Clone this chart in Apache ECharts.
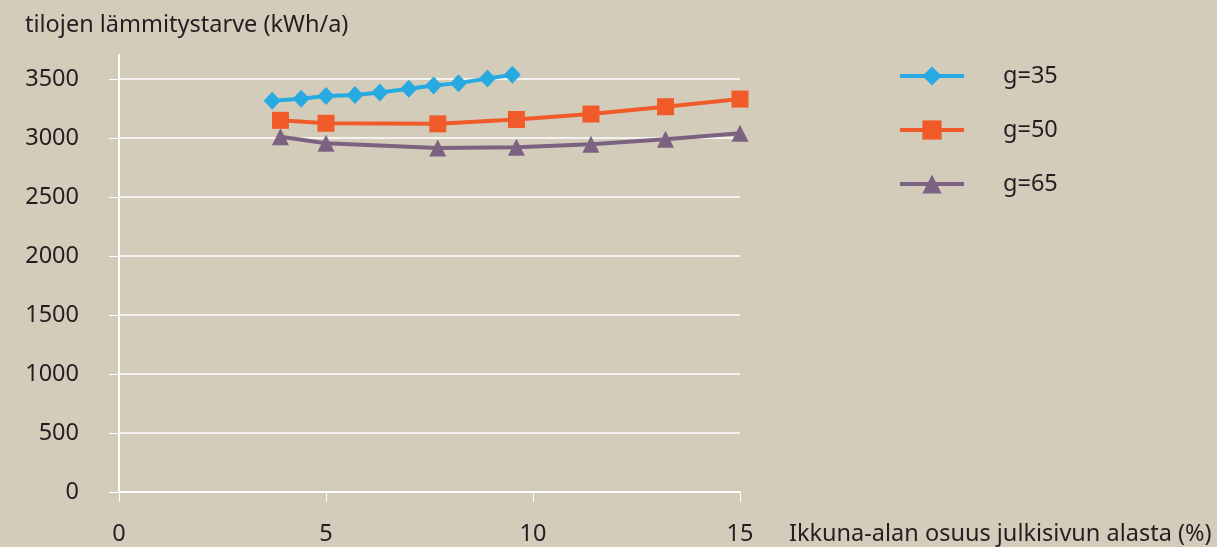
<!DOCTYPE html>
<html>
<head>
<meta charset="utf-8">
<script src="https://cdn.jsdelivr.net/npm/echarts@6/dist/echarts.min.js"></script>
<style>
  html, body { margin: 0; padding: 0; background: #d4ccbb; }
  #chart { width: 1217px; height: 547px; }
</style>
</head>
<body>
<div id="chart"></div>
<script>
// Window share of facade area (%) and space heating demand (kWh/a) for three g-values
const seriesNames = ['g=35', 'g=50', 'g=65'];

const g35X = [3.7, 4.4, 5.0, 5.7, 6.3, 7.0, 7.6, 8.2, 8.9, 9.5];
const g35Y = [3315, 3333, 3355, 3365, 3385, 3417, 3445, 3465, 3505, 3535];

const g50X = [3.9, 5.0, 7.7, 9.6, 11.4, 13.2, 15.0];
const g50Y = [3150, 3125, 3120, 3157, 3203, 3265, 3330];

const g65X = [3.9, 5.0, 7.7, 9.6, 11.4, 13.2, 15.0];
const g65Y = [3010, 2955, 2915, 2921, 2948, 2990, 3040];

const yTitle = 'tilojen lämmitystarve (kWh/a)';
const xTitle = 'Ikkuna-alan osuus julkisivun alasta (%)';

const colors = ['#27aae1', '#f15a29', '#7c6281'];
const symbols = ['diamond', 'rect', 'triangle'];
const symbolSizes = [[17, 18], 17, 17];

const FONT = '"Noto Sans", sans-serif';
const TEXT = '#231f20';
const FS = 23.5;

const pairs = (xs, ys) => xs.map((x, i) => [x, ys[i]]);
const allData = [pairs(g35X, g35Y), pairs(g50X, g50Y), pairs(g65X, g65Y)];

const chart = echarts.init(document.getElementById('chart'));
chart.setOption({
  backgroundColor: '#d4ccbb',
  animation: false,
  title: {
    text: yTitle,
    left: 20, top: 8,
    textStyle: { fontFamily: FONT, fontSize: FS, fontWeight: 'normal', color: TEXT }
  },
  legend: {
    orient: 'vertical',
    left: 898, top: 64,
    padding: 0,
    itemWidth: 64, itemHeight: 24,
    itemGap: 30,
    lineStyle: { width: 4 },
    textStyle: { fontFamily: FONT, fontSize: FS, color: TEXT, padding: [0, 0, 0, 34] },
    data: seriesNames
  },
  grid: [
    { left: 119, top: 79, width: 621, bottom: 55 },
    { left: 119, top: 55, width: 1, bottom: 55 }
  ],
  xAxis: [
    {
      type: 'value', gridIndex: 0, min: 0, max: 15, interval: 5,
      axisLine: { lineStyle: { color: '#ffffff', width: 2 } },
      axisTick: { show: true, length: 10, lineStyle: { color: '#ffffff', width: 1 } },
      splitLine: { show: false },
      axisLabel: { margin: 30, fontFamily: FONT, fontSize: FS, color: TEXT },
      name: xTitle,
      nameLocation: 'end',
      nameGap: 49,
      nameTextStyle: { fontFamily: FONT, fontSize: FS, color: TEXT, align: 'left', verticalAlign: 'top', padding: [30, 0, 0, 0] }
    },
    { type: 'value', gridIndex: 1, show: false, min: 0, max: 1 }
  ],
  yAxis: [
    {
      type: 'value', gridIndex: 0, min: 0, max: 3500, interval: 500,
      axisLine: { show: true, lineStyle: { color: '#ffffff', width: 2 } },
      axisTick: { show: true, length: 10, lineStyle: { color: '#ffffff', width: 1 } },
      splitLine: { show: true, lineStyle: { color: '#ffffff', width: 1.5 } },
      axisLabel: { margin: 40, fontFamily: FONT, fontSize: FS, color: TEXT, formatter: v => String(v) }
    },
    {
      type: 'value', gridIndex: 1, min: 0, max: 3700,
      axisLine: { show: true, lineStyle: { color: '#ffffff', width: 2 } },
      axisTick: { show: false }, axisLabel: { show: false }, splitLine: { show: false }
    }
  ],
  series: seriesNames.map((name, i) => ({
    name,
    type: 'line',
    xAxisIndex: 0, yAxisIndex: 0,
    data: allData[i],
    clip: false,
    symbol: symbols[i],
    symbolSize: symbolSizes[i],
    showAllSymbol: true,
    color: colors[i],
    lineStyle: { color: colors[i], width: 4 },
    itemStyle: { color: colors[i] },
    z: 3 + i
  }))
});
</script>
</body>
</html>
